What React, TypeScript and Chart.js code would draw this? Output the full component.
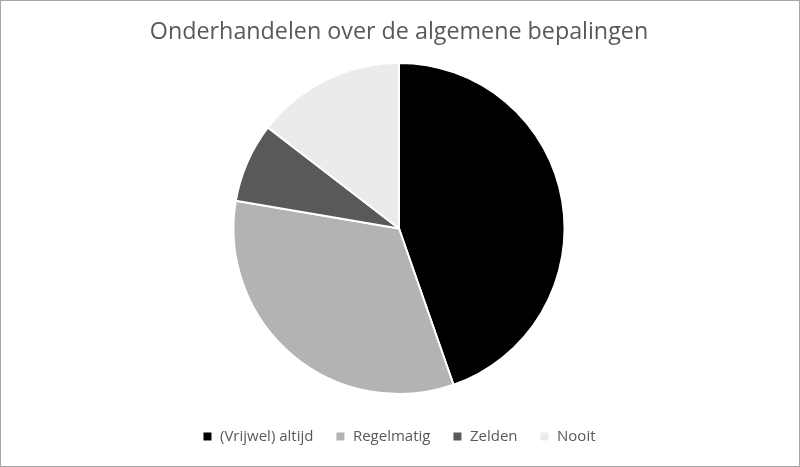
import React, { useEffect, useRef } from 'react';
import Chart from 'chart.js/auto';

const categories = ['(Vrijwel) altijd', 'Regelmatig', 'Zelden', 'Nooit'];
const counts = [46, 34, 8, 15];
const sliceColors = ['#000000', '#b3b3b3', '#595959', '#ebebeb'];
const chartTitle = 'Onderhandelen over de algemene bepalingen';

const App: React.FC = () => {
  const canvasRef = useRef<HTMLCanvasElement>(null);
  const chartInstance = useRef<Chart | null>(null);

  useEffect(() => {
    document.body.style.margin = '0';
    if (!canvasRef.current) return;
    const ctx = canvasRef.current.getContext('2d');
    if (!ctx) return;

    chartInstance.current = new Chart(ctx, {
      type: 'pie',
      data: {
        labels: categories,
        datasets: [
          {
            data: counts,
            backgroundColor: sliceColors,
            borderColor: '#ffffff',
            borderWidth: 2,
          },
        ],
      },
      options: {
        animation: false,
        responsive: true,
        maintainAspectRatio: false,
        layout: { padding: { top: 0, bottom: 12, left: 0, right: 2 } },
        plugins: {
          title: {
            display: true,
            text: chartTitle,
            color: '#595959',
            font: { family: '"Open Sans", sans-serif', size: 23.3, weight: 'normal' },
            padding: { top: 17, bottom: 16 },
          },
          legend: {
            position: 'bottom',
            // empty legend title only used as spacer above the items
            title: {
              display: true,
              text: '',
              font: { size: 1, lineHeight: 1 },
              padding: { top: 11, bottom: 0 },
            },
            labels: {
              color: '#595959',
              font: { family: '"Open Sans", sans-serif', size: 15 },
              boxWidth: 10,
              boxHeight: 10,
              padding: 22,
            },
          },
          tooltip: { enabled: false },
        },
      },
    });

    return () => {
      if (chartInstance.current) {
        chartInstance.current.destroy();
      }
    };
  }, []);

  return (
    <div
      style={{
        position: 'relative',
        width: 800,
        height: 467,
        boxSizing: 'border-box',
        border: '1px solid #a6a6a6',
        background: '#ffffff',
      }}
    >
      <canvas ref={canvasRef}></canvas>
    </div>
  );
};

export default App;
